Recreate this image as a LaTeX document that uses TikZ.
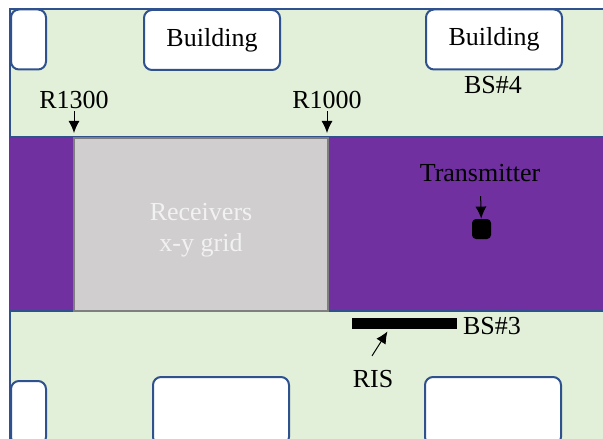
\documentclass[tikz,border=0pt]{standalone}
\usepackage{fontspec}
\setmainfont{Liberation Serif}
\usetikzlibrary{arrows.meta, calc}
\definecolor{streetgreen}{RGB}{226,240,217}
\definecolor{edgeblue}{RGB}{47,82,143}
\definecolor{roadpurple}{RGB}{112,48,160}
\definecolor{gridgray}{RGB}{208,206,206}
\definecolor{gridedge}{RGB}{127,127,127}
\definecolor{rxwhite}{RGB}{242,242,242}
\begin{document}
\begin{tikzpicture}[x=0.5pt, y=-0.5pt,
				>={Latex[length=6pt,width=5.5pt]},   %Voreinstellung für Pfeilspitzen
				font=\fontsize{13}{15.5}\selectfont,
				bldg/.style={draw=edgeblue, line width=1pt, fill=white, rounded corners=4pt, inner sep=0pt, minimum height=30pt},
				lbl/.style={inner sep=1pt},
				pfeil/.style={->, line width=0.5pt}]
				%Bildbereich
				\useasboundingbox (0,0) rectangle (603,438);
				\clip (0,0) rectangle (603,438);
				% Gelaende und Strasse
				\fill[streetgreen] (10,9) rectangle (640,460);
				\draw[edgeblue, line width=0.75pt] (640,9) -- (10,9) -- (10,460);
				\fill[roadpurple] (10,137) rectangle (640,311);
				\draw[edgeblue, line width=0.75pt] (10,137) -- (640,137) (10,311) -- (640,311);
				% Empfaengerraster
				\node[draw=gridedge, fill=gridgray, line width=1pt, inner sep=0pt, minimum width=127pt, minimum height=86.5pt] (grid) at (201,224.5) {};
				\node[lbl, text=rxwhite, align=center] (rxtext) at (201,230) {Receivers\\x-y grid};
				% Gebaeude
				\node[bldg, minimum width=17.5pt] (bldgC) at (28.5,39.5) {};
				\node[bldg, minimum width=68pt] (bldgA) at (212,40) {Building};
				\node[bldg, minimum width=68pt] (bldgB) at (494,39.5) {Building};
				\node[bldg, minimum width=17.5pt, minimum height=32pt] (bldgD) at (28.5,413) {};
				\node[bldg, minimum width=68pt, minimum height=34pt] (bldgE) at (221,411) {};
				\node[bldg, minimum width=68pt, minimum height=34pt] (bldgF) at (493,411) {};
				% Sender und RIS
				\node[fill=black, rounded corners=2pt, inner sep=0pt, minimum width=9.5pt, minimum height=10pt] (tx) at (481.5,229) {};
				\node[fill=black, inner sep=0pt, minimum width=52.5pt, minimum height=5.5pt] (risbar) at (404.5,323.5) {};
				%Beschriftung
				\node[lbl] (r1300) at (74,100) {R1300};
				\node[lbl] (r1000) at (327,100) {R1000};
				\node[lbl] (bs4) at (493,85) {BS\#4};
				\node[lbl] (txlabel) at (480,173) {Transmitter};
				\node[lbl] (bs3) at (492,326) {BS\#3};
				\node[lbl] (ris) at (373,379) {RIS};
				% Pfeile
				\draw[pfeil, shorten >=2pt] (r1300) -- (r1300 |- grid.north);
				\draw[pfeil, shorten >=2pt] (r1000) -- (r1000 |- grid.north);
				\draw[pfeil, shorten <=6pt] (txlabel) -- (tx);
				\draw[pfeil] ($(ris.north)+(-1,-12)$) -- ($(risbar.south)+(-17,2)$);
\end{tikzpicture}
\end{document}
